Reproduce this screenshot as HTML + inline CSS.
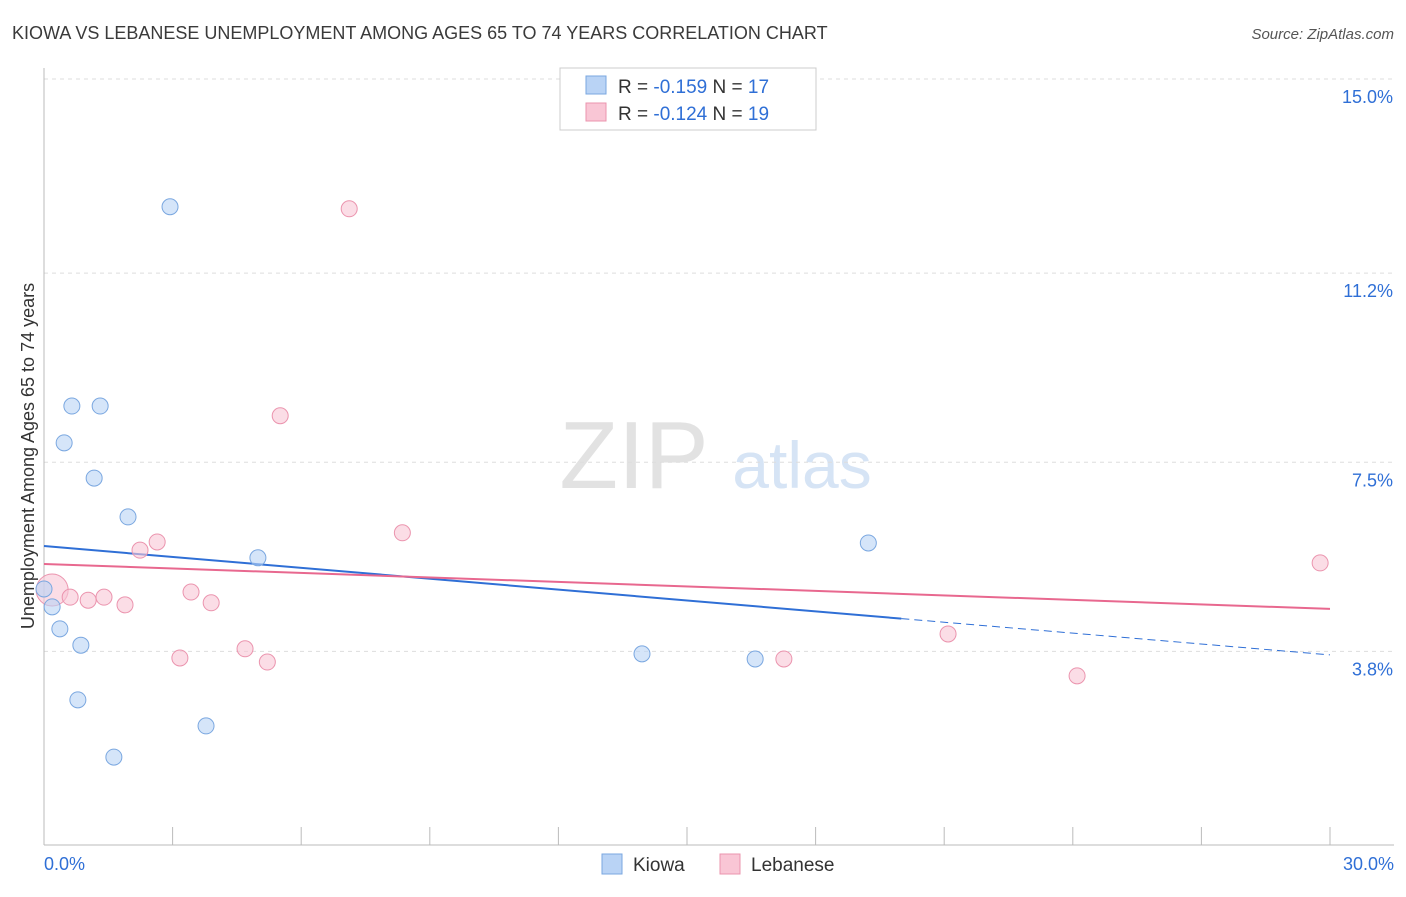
<!DOCTYPE html>
<html><head><meta charset="utf-8"><style>
body{margin:0;background:#fff;font-family:"Liberation Sans",sans-serif;}
svg text{font-family:"Liberation Sans",sans-serif;}
</style></head><body>
<svg id="chart" width="1406" height="892" viewBox="0 0 1406 892" xmlns="http://www.w3.org/2000/svg">
<text x="12" y="39" font-size="18" fill="#3a3a3a">KIOWA VS LEBANESE UNEMPLOYMENT AMONG AGES 65 TO 74 YEARS CORRELATION CHART</text>
<text x="1394" y="39" font-size="15" fill="#555" text-anchor="end" font-style="italic">Source: ZipAtlas.com</text>
<text x="634" y="488" font-size="96" fill="#e2e2e2" text-anchor="middle" font-family="Liberation Serif, serif">ZIP</text>
<text x="802" y="488" font-size="66" fill="#d6e4f5" text-anchor="middle">atlas</text>
<g id="grid"></g>
<g id="axes"></g>
<g id="trends"></g>
<g id="points"></g>
<text transform="translate(34,456) rotate(-90)" font-size="18" fill="#333" text-anchor="middle">Unemployment Among Ages 65 to 74 years</text>
<g>
<rect x="560" y="68" width="256" height="62" fill="#fff" stroke="#ccc"/>
<rect x="586" y="76" width="20" height="18" fill="#b9d3f5" stroke="#7aa7e0"/>
<rect x="586" y="103" width="20" height="18" fill="#f9c6d5" stroke="#eb94ae"/>
<text x="618" y="93" font-size="19" fill="#333">R = <tspan fill="#2f6fd6">-0.159</tspan>   N = <tspan fill="#2f6fd6">17</tspan></text>
<text x="618" y="120" font-size="19" fill="#333">R = <tspan fill="#2f6fd6">-0.124</tspan>   N = <tspan fill="#2f6fd6">19</tspan></text>
</g>
<g>
<rect x="602" y="854" width="20" height="20" fill="#b9d3f5" stroke="#7aa7e0"/>
<text x="633" y="871" font-size="19" fill="#333">Kiowa</text>
<rect x="720" y="854" width="20" height="20" fill="#f9c6d5" stroke="#eb94ae"/>
<text x="751" y="871" font-size="19" fill="#333">Lebanese</text>
</g>
</svg>
<script>
const kiowaX=[0,0.19,0.37,0.47,0.65,1.31,1.17,0.86,0.79,1.63,1.96,2.94,3.78,4.99,13.95,16.59,19.23];
const kiowaY=[5.02,4.67,4.24,7.88,8.60,8.60,7.19,3.92,2.85,1.73,6.43,12.50,2.34,5.63,3.75,3.65,5.92];
const lebX=[0.19,0.61,1.03,1.40,1.89,2.24,2.64,3.17,3.43,3.90,4.69,5.21,5.51,7.12,8.36,17.26,21.09,24.10,29.77];
const lebY=[5.0,4.86,4.80,4.86,4.71,5.78,5.94,3.67,4.96,4.75,3.85,3.59,8.41,12.46,6.12,3.65,4.14,3.32,5.53];
const yTicks=[15.0,11.2,7.5,3.8];
const yTickLabels=["15.0%","11.2%","7.5%","3.8%"];
const xTickLabels=["0.0%","30.0%"];
const kiowaTrend=[5.86,3.73];
const lebTrend=[5.51,4.63];
const xs=v=>44+v*(1286/30);
const ys=v=>79+(15-v)*51.1;
const NS="http://www.w3.org/2000/svg";
function mk(p,t,a){const e=document.createElementNS(NS,t);for(const k in a)e.setAttribute(k,a[k]);p.appendChild(e);return e;}
const grid=document.getElementById('grid'),axes=document.getElementById('axes');
yTicks.forEach((v,i)=>{
 const l=mk(grid,'line',{x1:44,x2:1394,y1:ys(v),y2:ys(v),stroke:'#ddd','stroke-dasharray':'4,4'});
 
 
 const t=mk(axes,'text',{x:1393,y:ys(v)+24,'font-size':18,fill:'#2f6fd6','text-anchor':'end'});
 t.textContent=yTickLabels[i];
 
 
});
mk(axes,'line',{x1:44,x2:44,y1:68,y2:845,stroke:'#bbb'});
mk(axes,'line',{x1:44,x2:1394,y1:845,y2:845,stroke:'#bbb'});
for(let i=0;i<=10;i++){const x=xs(i*3);mk(axes,'line',{x1:x,x2:x,y1:827,y2:845,stroke:'#bbb'});}
[[0,'start',44],[30,'end',1394]].forEach((d,i)=>{
 const t=mk(axes,'text',{x:d[2],y:870,'font-size':18,fill:'#2f6fd6','text-anchor':d[1]});
 t.textContent=xTickLabels[i];
 
 
});
const tr=document.getElementById('trends');
const kx=20;const ky=kiowaTrend[0]+(kiowaTrend[1]-kiowaTrend[0])*kx/30;
let e=mk(tr,'line',{x1:xs(0),y1:ys(kiowaTrend[0]),x2:xs(kx),y2:ys(ky),stroke:'#2f6fd6','stroke-width':2});


e=mk(tr,'line',{x1:xs(kx),y1:ys(ky),x2:xs(30),y2:ys(kiowaTrend[1]),stroke:'#2f6fd6','stroke-width':1,'stroke-dasharray':'8,5'});


e=mk(tr,'line',{x1:xs(0),y1:ys(lebTrend[0]),x2:xs(30),y2:ys(lebTrend[1]),stroke:'#e8688f','stroke-width':2});


const pts=document.getElementById('points');
lebX.forEach((x,i)=>{
 const c=mk(pts,'circle',{cx:xs(x),cy:ys(lebY[i]),r:i===0?16:8,fill:'rgba(249,198,213,0.6)',stroke:'#eb94ae','stroke-width':1});
 
 
});
kiowaX.forEach((x,i)=>{
 const c=mk(pts,'circle',{cx:xs(x),cy:ys(kiowaY[i]),r:8,fill:'rgba(185,211,245,0.6)',stroke:'#7aa7e0','stroke-width':1});
 
 
});
</script>
</body></html>
